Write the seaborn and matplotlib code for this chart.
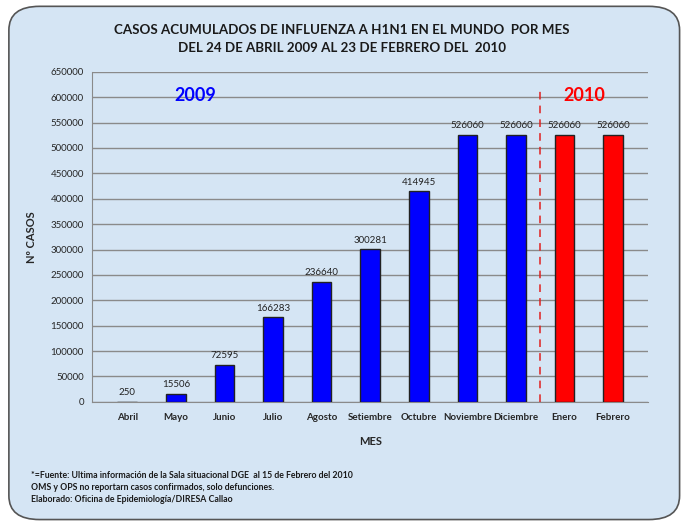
import pandas as pd
import matplotlib.pyplot as plt
import seaborn as sns
from matplotlib.patches import FancyBboxPatch

# Data
meses = ['Abril', 'Mayo', 'Junio', 'Julio', 'Agosto', 'Setiembre', 'Octubre',
         'Noviembre', 'Diciembre', 'Enero', 'Febrero']
casos = [250, 15506, 72595, 166283, 236640, 300281, 414945, 526060, 526060, 526060, 526060]
anio = ['2009'] * 9 + ['2010'] * 2

df = pd.DataFrame({'Mes': meses, 'Casos': casos, 'Anio': anio})

sns.set_style("white")
plt.rcParams['font.family'] = ['Lato', 'DejaVu Sans']

fig = plt.figure(figsize=(6.83, 5.28), dpi=100)
fig.patch.set_facecolor('white')

# rounded light-blue panel
panel = FancyBboxPatch((0.013, 0.016), 0.982, 0.972,
                       boxstyle="round,pad=0,rounding_size=0.045",
                       transform=fig.transFigure, facecolor='#d5e5f4',
                       edgecolor='#555555', linewidth=1.2, zorder=-10)
fig.patches.append(panel)

ax = fig.add_axes([0.135, 0.239, 0.814, 0.625])
ax.set_facecolor('none')

sns.barplot(data=df, x='Mes', y='Casos', hue='Anio',
            palette={'2009': '#0000ff', '2010': '#ff0000'}, saturation=1,
            dodge=False, width=0.4, edgecolor='#222222', linewidth=1,
            legend=False, ax=ax, zorder=3)

ax.set_ylim(0, 650000)
ax.set_yticks(range(0, 650001, 50000))
ax.yaxis.grid(True, color='#8a8a8a', linewidth=1)
ax.set_axisbelow(True)
for s in ['top', 'right']:
    ax.spines[s].set_visible(False)
ax.spines['left'].set_color('#8a8a8a')
ax.spines['bottom'].set_color('#8a8a8a')
ax.tick_params(axis='y', labelsize=7, length=4, color='#8a8a8a', pad=2)
ax.tick_params(axis='x', labelsize=7, length=0, pad=8)
for lbl in ax.get_xticklabels():
    lbl.set_fontweight('bold')

# value labels
for i, v in enumerate(casos):
    ax.text(i, v + 9000, str(v), ha='center', va='bottom', fontsize=7, color='#222222')

# separator between years
ax.plot([8.5, 8.5], [0, 618000], color='#e02020', linestyle=(0, (5, 4)), linewidth=1.1, zorder=4)
ax.text(1.4, 603000, '2009', color='#0000ff', fontsize=13, fontweight='bold', ha='center', va='center')
ax.text(9.4, 603000, '2010', color='#ff0000', fontsize=13, fontweight='bold', ha='center', va='center')

ax.set_xlabel('MES', fontsize=8, fontweight='bold', labelpad=10)
ax.set_ylabel('Nº CASOS', fontsize=8, fontweight='bold', labelpad=10)

fig.text(0.5, 0.943, 'CASOS ACUMULADOS DE INFLUENZA A H1N1 EN EL MUNDO  POR MES',
         ha='center', va='center', fontsize=9.6, fontweight='bold', color='#1a1a1a')
fig.text(0.5, 0.909, 'DEL 24 DE ABRIL 2009 AL 23 DE FEBRERO DEL  2010',
         ha='center', va='center', fontsize=9.6, fontweight='bold', color='#1a1a1a')

notes = ['*=Fuente: Ultima información de la Sala situacional DGE  al 15 de Febrero del 2010',
         'OMS y OPS no reportarn casos confirmados, solo defunciones.',
         'Elaborado: Oficina de Epidemiología/DIRESA Callao']
for k, t in enumerate(notes):
    fig.text(0.045, 0.100 - k * 0.023, t, ha='left', va='center', fontsize=6.3,
             fontweight='bold', color='#1a1a1a')

fig.savefig('out.png', dpi=100)
